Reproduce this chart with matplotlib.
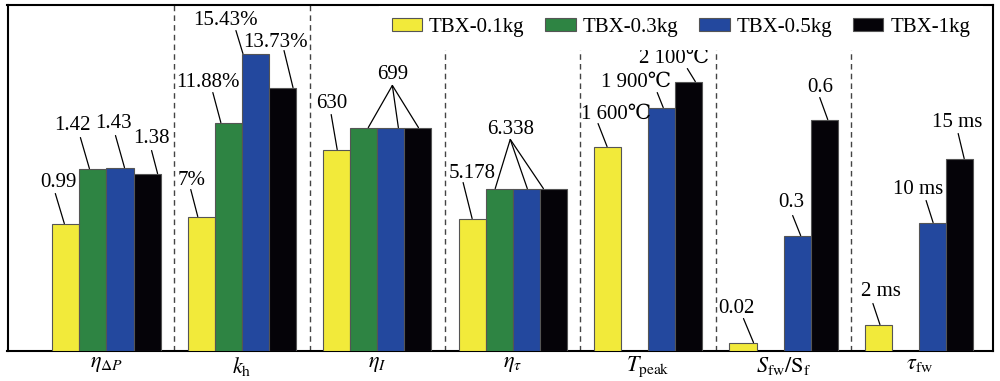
import numpy as np
import matplotlib
matplotlib.use('Agg')
import matplotlib.pyplot as plt
from matplotlib.patches import Patch

plt.rcParams['font.family'] = ['Liberation Serif', 'DejaVu Serif', 'Noto Sans CJK SC']
plt.rcParams['mathtext.fontset'] = 'stix'

# categories (x tick labels)
categories = [r'$\eta_{\Delta P}$', r'$k_\mathrm{h}$', r'$\eta_I$', r'$\eta_\tau$',
              r'$T_\mathrm{peak}$', r'$S_\mathrm{fw}/\mathrm{S_f}$', r'$\tau_\mathrm{fw}$']
series = ['TBX-0.1kg', 'TBX-0.3kg', 'TBX-0.5kg', 'TBX-1kg']
colors = ['#f2ea3a', '#2e8443', '#23489e', '#050308']

# bar heights as drawn (each group on its own scale, nan = no bar)
h_01kg = [127, 134, 201, 132, 204, 8, 26]
h_03kg = [182, 228, 223, 162, np.nan, np.nan, np.nan]
h_05kg = [183, 297, 223, 162, 243, 115, 128]
h_1kg = [177, 263, 223, 162, 269, 231, 192]

# value labels per group (None = no label, '' = line only, shares the text before it)
labels = [['0.99', '1.42', '1.43', '1.38'],
          ['7%', '11.88%', '15.43%', '13.73%'],
          ['630', '699', '', ''],
          ['5.178', '6.338', '', ''],
          ['1 600℃', None, '1 900℃', '2 100℃'],
          ['0.02', None, '0.3', '0.6'],
          ['2 ms', None, '10 ms', '15 ms']]

# leader line layout in pixels: (end dx from bar centre, start dx, start dy, text dx, text dy)
layout = [[(-1.5, -9, 30, -6, 41), (-3.5, -9, 31, -17, 43), (4.5, -9, 32, -11, 44), (10.5, -6, 23, -6, 35)],
          [(-3.5, -7, 27, -6, 36), (-7.5, -8, 30, -13, 40), (-12.5, -7, 23, -17, 33), (10.5, -9, 37, -18, 45)],
          [(0.5, -6, 35, -5, 46), (4.5, 24, 42, 24, 53), (7.5, -6, 42, -6, 53), (0.5, -26, 42, -26, 53)],
          [(0, -9, 36, 0, 45), (-4, 15, 49, 15, 59), (1, -17, 49, -17, 59), (-10, -33, 49, -33, 59)],
          [(-0.5, -9, 23, 9, 32), None, (1.5, -6, 15, -27, 25), (6.5, -8, 13, -21, 23)],
          [(10.5, -10, 24, -17, 34), None, (3.5, -8, 20, -9, 33), (3.5, -8, 22, -7, 32)],
          [(1.5, -7, 21, 1, 33), None, (0.5, -7, 22, -15, 33), (4.5, -6, 25, -7, 36)]]

heights = [h_01kg, h_03kg, h_05kg, h_1kg]

fig = plt.figure(figsize=(10, 3.81), dpi=100)
ax = fig.add_axes([0.0075, 0.080, 0.9855, 0.908])

x = np.arange(len(categories))
w = 0.2
xlim = (-0.7306, 6.546)
ax.set_xlim(*xlim)
ax.set_ylim(0, 346)
px = 0.9855 * 1000 / (xlim[1] - xlim[0])  # pixels per data unit in x
k = 0.72  # pixels -> points

for i in range(4):
    ax.bar(x + (i - 1.5) * w, heights[i], w, color=colors[i], edgecolor='#555555',
           linewidth=0.8, label=series[i], zorder=3)

for g in range(len(categories)):
    for i in range(4):
        txt = labels[g][i]
        if txt is None:
            continue
        ed, sdx, sdy, tdx, tdy = layout[g][i]
        end = (x[g] + (i - 1.5) * w + ed / px, heights[i][g])
        ax.annotate('', xy=end, xytext=(sdx * k, sdy * k), textcoords='offset points',
                    arrowprops=dict(arrowstyle='-', color='black', lw=0.9,
                                    shrinkA=0, shrinkB=0), zorder=4)
        if txt:
            ax.annotate(txt, xy=end, xytext=(tdx * k, tdy * k), textcoords='offset points',
                        ha='center', va='center', fontsize=15, zorder=4)

for d in x[:-1] + 0.5:
    ax.axvline(d, color='#444444', lw=1, linestyle=(0, (4, 3)), zorder=1)

ax.set_xticks(x)
ax.set_xticklabels(categories, fontsize=16)
ax.tick_params(axis='x', length=0, pad=3)
ax.set_yticks([])
for s in ax.spines.values():
    s.set_linewidth(1.5)

handles = [Patch(facecolor=colors[i], edgecolor='#555555', linewidth=0.8) for i in range(4)]
leg = ax.legend(handles, series, loc='upper right', bbox_to_anchor=(0.99, 0.997), ncol=4,
                fontsize=15, frameon=True, fancybox=False, edgecolor='none', facecolor='white',
                framealpha=1, handlelength=1.45, handleheight=0.6, handletextpad=0.35,
                columnspacing=1.0, borderpad=0.6, borderaxespad=0)
leg.set_zorder(5)

fig.savefig('out.png', dpi=100)
